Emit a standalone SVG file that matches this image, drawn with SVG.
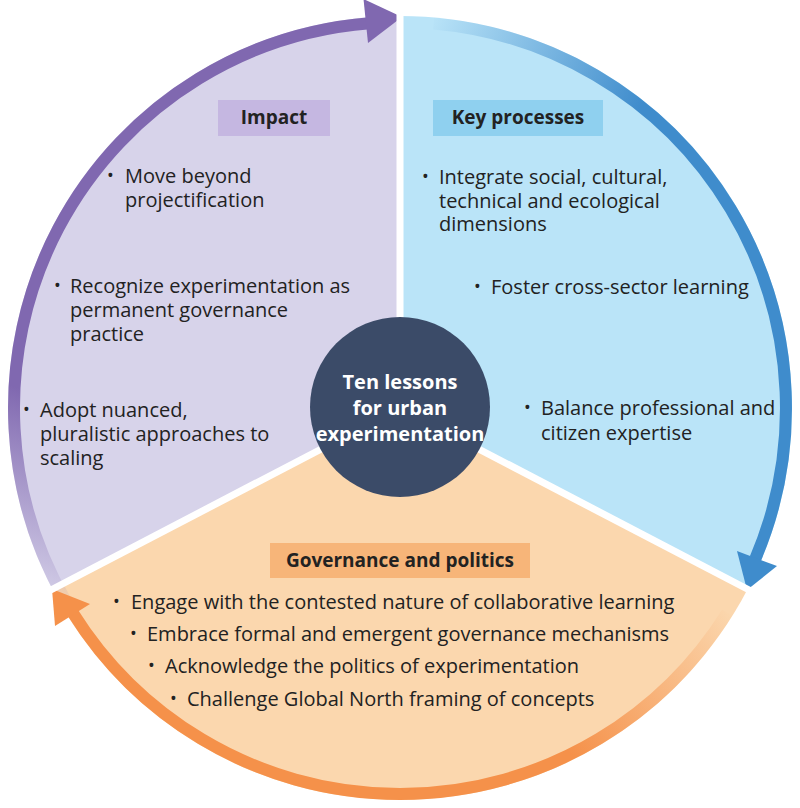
<svg xmlns="http://www.w3.org/2000/svg" width="800" height="808" viewBox="0 0 800 808">
<defs>
<style>
text{font-family:"Open Sans","Noto Sans","Liberation Sans",sans-serif;fill:#222;font-size:20px}
.b{font-size:18px}
.h{font-weight:bold;font-size:19px;text-anchor:middle}
.c{font-weight:bold;font-size:20px;fill:#fff;text-anchor:middle}
.div{stroke:#fff;stroke-width:7}
</style>
<linearGradient id="gp" gradientUnits="userSpaceOnUse" x1="60" y1="610" x2="120" y2="420"><stop offset="0" stop-color="#8068b0" stop-opacity="0"/><stop offset="1" stop-color="#8068b0"/></linearGradient>
<linearGradient id="gb" gradientUnits="userSpaceOnUse" x1="430" y1="20" x2="640" y2="110"><stop offset="0" stop-color="#3f8ccc" stop-opacity="0"/><stop offset="1" stop-color="#3f8ccc"/></linearGradient>
<linearGradient id="go" gradientUnits="userSpaceOnUse" x1="730" y1="610" x2="560" y2="740"><stop offset="0" stop-color="#f5914a" stop-opacity="0"/><stop offset="1" stop-color="#f5914a"/></linearGradient>
</defs>
<rect width="800" height="808" fill="#fff"/>
<g id="sectors">
<path d="M400,408 L52.3,589 A392,392 0 0 1 400,16 Z" fill="#d7d3ea"/>
<path d="M400,408 L400,16 A392,392 0 0 1 747.7,589 Z" fill="#bae4f8"/>
<path d="M400,408 L747.7,589 A392,392 0 0 1 52.3,589 Z" fill="#fbd7ae"/>
</g>
<g id="connectors" fill="none">
<path d="M65.7,601 A386,386 0 0 1 369.7,23.2" stroke="url(#gp)" stroke-width="12"/>
<polygon points="402,17 368,43 363.5,-1" fill="#8068b0"/>
<path d="M433.6,23.5 A386,386 0 0 1 755.3,558.8" stroke="url(#gb)" stroke-width="12"/>
<polygon points="747,590 737,551 777,566" fill="#3f8ccc"/>
<path d="M727.3,612.6 A386,386 0 0 1 72.7,612.6" stroke="url(#go)" stroke-width="12"/>
<polygon points="52,589 90,604 55,626" fill="#f5914a"/>
<line class="div" x1="400" y1="408" x2="400" y2="10"/>
<line class="div" x1="400" y1="408" x2="753" y2="592"/>
<line class="div" x1="400" y1="408" x2="47" y2="592"/>
</g>
<g id="center">
<circle cx="400" cy="407" r="90" fill="#3b4b68"/>
<text class="c" x="400" y="389">Ten lessons</text>
<text class="c" x="400" y="415">for urban</text>
<text class="c" x="400" y="441">experimentation</text>
</g>
<g id="impact">
<rect x="218" y="100" width="112" height="36" fill="#c5b7e1"/>
<text class="h" x="274" y="124">Impact</text>
<text class="b" x="107" y="182">•</text><text x="125" y="183">Move beyond</text><text x="125" y="207">projectification</text>
<text class="b" x="54" y="292">•</text><text x="70" y="293">Recognize experimentation as</text><text x="70" y="317">permanent governance</text><text x="70" y="341">practice</text>
<text class="b" x="23" y="416">•</text><text x="40" y="417">Adopt nuanced,</text><text x="40" y="441">pluralistic approaches to</text><text x="40" y="465">scaling</text>
</g>
<g id="key">
<rect x="433" y="100" width="170" height="36" fill="#8fd0ef"/>
<text class="h" x="518" y="124">Key processes</text>
<text class="b" x="422" y="183">•</text><text x="439" y="184">Integrate social, cultural,</text><text x="439" y="208">technical and ecological</text><text x="439" y="231">dimensions</text>
<text class="b" x="474" y="293">•</text><text x="491" y="294">Foster cross-sector learning</text>
<text class="b" x="524" y="414">•</text><text x="541" y="415">Balance professional and</text><text x="541" y="440">citizen expertise</text>
</g>
<g id="governance">
<rect x="270" y="543" width="260" height="35" fill="#f7b579"/>
<text class="h" x="400" y="567">Governance and politics</text>
<text class="b" x="113" y="608">•</text><text x="131" y="609">Engage with the contested nature of collaborative learning</text>
<text class="b" x="130" y="640">•</text><text x="147" y="641">Embrace formal and emergent governance mechanisms</text>
<text class="b" x="148" y="672">•</text><text x="165" y="673">Acknowledge the politics of experimentation</text>
<text class="b" x="170" y="705">•</text><text x="187" y="706">Challenge Global North framing of concepts</text>
</g>
</svg>
